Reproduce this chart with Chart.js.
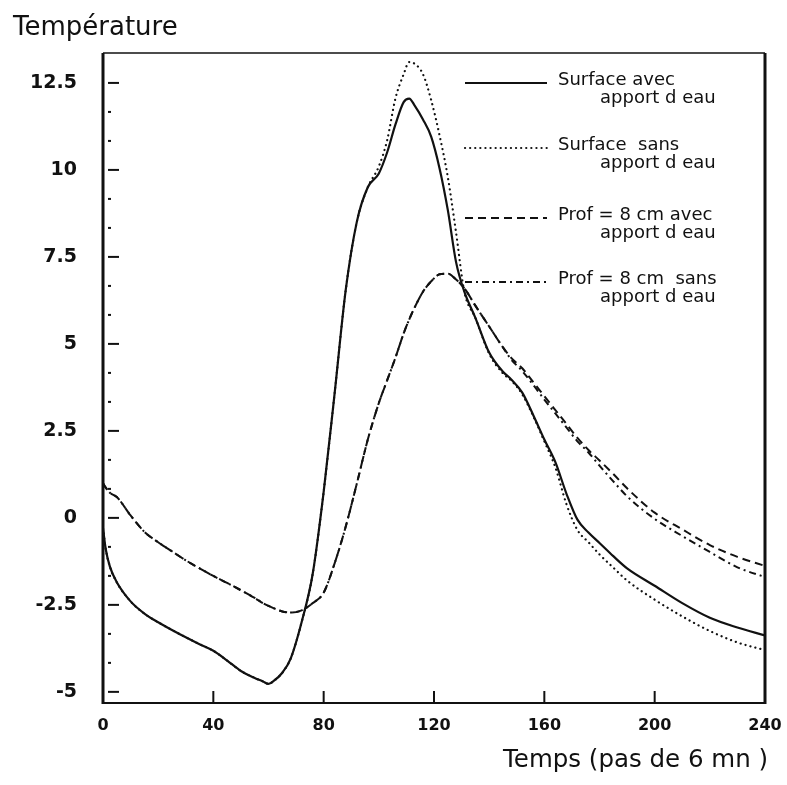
<!DOCTYPE html>
<html>
<head>
<meta charset="utf-8">
<script src="https://cdn.jsdelivr.net/npm/chart.js@4.4.1/dist/chart.umd.min.js"></script>
<style>
  html, body { margin: 0; padding: 0; background: #fff; }
  canvas { display: block; }
</style>
</head>
<body>
<canvas id="temp" width="787" height="785"></canvas>
<script>
// time axis, in steps of 6 minutes
const timeSteps = [0, 1, 2.5, 5, 10, 15, 20, 25, 30, 35, 40, 45, 50, 55, 58, 60, 62, 65, 68, 72,
  76, 80, 84, 88, 92, 96, 100, 103, 106, 109, 111, 113, 116, 119, 122, 125, 128, 131, 135, 140,
  145, 148, 152, 156, 160, 164, 168, 172, 176, 180, 185, 190, 200, 210, 220, 230, 240];

// surface temperature, with water supply
const surfaceAvec = [-0.3, -0.9, -1.4, -1.85, -2.4, -2.75, -3.0, -3.22, -3.43, -3.63, -3.82, -4.1, -4.4, -4.6, -4.7, -4.77, -4.68, -4.45, -4.05, -3.0,
  -1.62, 0.75, 3.6, 6.55, 8.5, 9.5, 9.9, 10.5, 11.3, 11.95, 12.05, 11.85, 11.45, 10.95, 10.05, 8.85, 7.35, 6.5, 5.75, 4.75,
  4.2, 3.98, 3.6, 2.95, 2.25, 1.6, 0.7, -0.05, -0.42, -0.72, -1.1, -1.45, -1.95, -2.45, -2.87, -3.15, -3.38];

// surface temperature, without water supply
const surfaceSans = [-0.3, -0.9, -1.4, -1.85, -2.4, -2.75, -3.0, -3.22, -3.43, -3.63, -3.82, -4.1, -4.4, -4.6, -4.7, -4.77, -4.68, -4.45, -4.05, -3.0,
  -1.62, 0.75, 3.6, 6.55, 8.5, 9.5, 10.1, 10.85, 12.05, 12.75, 13.1, 13.05, 12.75, 12.0, 11.0, 9.8, 8.2, 6.5, 5.75, 4.72,
  4.15, 3.95, 3.55, 2.92, 2.2, 1.45, 0.4, -0.35, -0.7, -1.05, -1.43, -1.8, -2.35, -2.83, -3.25, -3.58, -3.8];

// 8 cm depth, with water supply
const profAvec = [1.0, 0.87, 0.72, 0.6, 0.07, -0.4, -0.7, -0.96, -1.22, -1.45, -1.67, -1.87, -2.08, -2.3, -2.45, -2.53, -2.6, -2.69, -2.72, -2.66,
  -2.45, -2.15, -1.3, -0.25, 0.98, 2.25, 3.3, 3.95, 4.6, 5.3, 5.7, 6.05, 6.5, 6.8, 7.0, 7.02, 6.85, 6.6, 6.1, 5.5,
  4.9, 4.6, 4.3, 3.9, 3.5, 3.1, 2.7, 2.3, 1.95, 1.65, 1.26, 0.85, 0.15, -0.33, -0.78, -1.12, -1.38];

// 8 cm depth, without water supply
const profSans = [1.0, 0.87, 0.72, 0.6, 0.07, -0.4, -0.7, -0.96, -1.22, -1.45, -1.67, -1.87, -2.08, -2.3, -2.45, -2.53, -2.6, -2.69, -2.72, -2.66,
  -2.45, -2.15, -1.3, -0.25, 0.98, 2.25, 3.3, 3.95, 4.6, 5.3, 5.7, 6.05, 6.5, 6.8, 7.0, 7.02, 6.85, 6.6, 6.1, 5.5,
  4.9, 4.55, 4.22, 3.82, 3.4, 3.0, 2.6, 2.2, 1.88, 1.5, 1.05, 0.62, -0.03, -0.52, -0.98, -1.42, -1.7];

const xTicks = [0, 40, 80, 120, 160, 200, 240];
const yTicks = [-5, -2.5, 0, 2.5, 5, 7.5, 10, 12.5];

const yTitle = 'Température';
const xTitle = 'Temps (pas de 6 mn )';

const ink = '#111';
const font = '"DejaVu Sans", sans-serif';
Chart.defaults.font.family = font;
Chart.defaults.color = ink;

const points = vals => timeSteps.map((t, i) => ({ x: t, y: vals[i] }));

// box, inner tick marks, axis titles and the legend block
const decor = {
  id: 'decor',
  afterDraw(chart) {
    const { ctx, chartArea: a, scales: { x, y } } = chart;
    ctx.save();
    ctx.strokeStyle = ink;
    ctx.fillStyle = ink;

    const seg = (x1, y1, x2, y2, w) => {
      ctx.lineWidth = w;
      ctx.beginPath();
      ctx.moveTo(x1, y1);
      ctx.lineTo(x2, y2);
      ctx.stroke();
    };
    seg(a.left, a.top, a.left, a.bottom + 1, 3);
    seg(a.left, a.bottom, a.right, a.bottom, 2);
    seg(a.right, a.top, a.right, a.bottom + 1, 3);
    seg(a.left, a.top, a.right, a.top, 1.5);

    yTicks.forEach((v, i) => {
      const py = y.getPixelForValue(v);
      seg(a.left + 5, py, a.left + 16, py, 2);
      if (i < yTicks.length - 1) {
        const step = (yTicks[i + 1] - v) / 3;
        for (let k = 1; k < 3; k++) {
          const my = y.getPixelForValue(v + k * step);
          ctx.fillRect(a.left + 5, my - 1, 3, 2);
        }
      }
    });
    xTicks.slice(1, -1).forEach(v => {
      const px = x.getPixelForValue(v);
      seg(px, a.bottom, px, a.bottom - 12, 2);
    });

    ctx.textBaseline = 'alphabetic';
    ctx.textAlign = 'left';
    ctx.font = '26px ' + font;
    ctx.fillText(yTitle, 13, 35);
    ctx.font = '24.5px ' + font;
    ctx.fillText(xTitle, 503, 767);

    const rows = [83, 148, 218, 282];
    ctx.font = '18px ' + font;
    chart.data.datasets.forEach((ds, i) => {
      const ry = rows[i];
      ctx.save();
      ctx.lineWidth = ds.borderWidth;
      ctx.lineCap = ds.borderCapStyle || 'butt';
      ctx.setLineDash(ds.borderDash || []);
      ctx.beginPath();
      ctx.moveTo(a.right - 300, ry);
      ctx.lineTo(a.right - 218, ry);
      ctx.stroke();
      ctx.restore();
      const [l1, l2] = ds.label.split('\n');
      ctx.fillText(l1, a.right - 207, ry + 2);
      ctx.fillText(l2, a.right - 165, ry + 20);
    });
    ctx.restore();
  }
};

new Chart(document.getElementById('temp'), {
  type: 'line',
  data: {
    datasets: [
      {
        label: 'Surface avec\napport d eau',
        data: points(surfaceAvec),
        borderColor: ink, borderWidth: 2.2,
        order: 1
      },
      {
        label: 'Surface  sans\napport d eau',
        data: points(surfaceSans),
        borderColor: ink, borderWidth: 2.2,
        borderDash: [0.1, 5], borderCapStyle: 'round',
        order: 2
      },
      {
        label: 'Prof = 8 cm avec\napport d eau',
        data: points(profAvec),
        borderColor: ink, borderWidth: 2,
        borderDash: [8, 5],
        order: 3
      },
      {
        label: 'Prof = 8 cm  sans\napport d eau',
        data: points(profSans),
        borderColor: ink, borderWidth: 2,
        borderDash: [7, 4, 2, 4],
        order: 4
      }
    ]
  },
  options: {
    responsive: false,
    animation: false,
    devicePixelRatio: 1,
    layout: { padding: { top: 53, right: 22, left: 0, bottom: 0 } },
    plugins: { legend: { display: false }, tooltip: { enabled: false } },
    elements: {
      point: { radius: 0 },
      line: { cubicInterpolationMode: 'monotone', fill: false }
    },
    scales: {
      x: {
        type: 'linear', min: 0, max: 240,
        afterFit: s => { s.height = 82; s.paddingLeft = 0; s.paddingRight = 0; },
        afterBuildTicks: s => { s.ticks = xTicks.map(v => ({ value: v })); },
        grid: { display: false, drawTicks: false },
        border: { display: false },
        ticks: { font: { size: 16, weight: 'bold' }, color: ink, padding: 13, maxRotation: 0, autoSkip: false, callback: v => String(v) }
      },
      y: {
        type: 'linear', min: -5.32, max: 13.36,
        afterFit: s => { s.width = 103; s.paddingTop = 0; s.paddingBottom = 0; },
        afterBuildTicks: s => { s.ticks = yTicks.map(v => ({ value: v })); },
        grid: { display: false, drawTicks: false },
        border: { display: false },
        ticks: { font: { size: 19, weight: 'bold' }, color: ink, padding: 26, autoSkip: false, callback: v => String(v) }
      }
    }
  },
  plugins: [decor]
});
</script>
</body>
</html>
